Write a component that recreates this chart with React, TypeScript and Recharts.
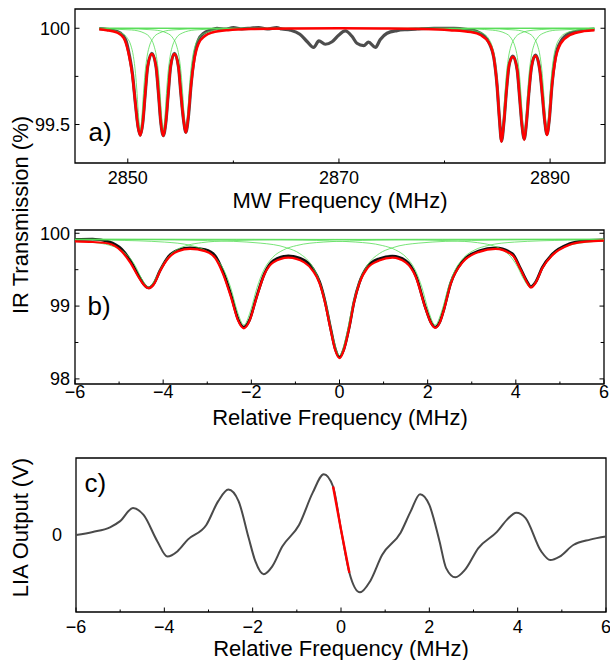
import React from 'react';
import { LineChart, Line, XAxis, YAxis, ReferenceArea } from 'recharts';

const FONT = '"Liberation Sans", Arial, Helvetica, sans-serif';

// ---------------- Panel a: MW frequency (MHz) vs IR transmission (%) ----------------
const aXDomain = [2845, 2895.2];
const aYDomain = [99.3, 100.1];
const aXTicks = [2850, 2860, 2870, 2880, 2890];
const aXMajor = [2850, 2870, 2890];
const aYTicks = [99.5, 99.75, 100];
const aYMajor = [99.5, 100];

const aData = [
  [2847.3, 99.998], [2848.5, 99.99], [2849.3, 99.975], [2849.8, 99.94], [2850.15, 99.86], [2850.45, 99.76],
  [2850.72, 99.61], [2850.97, 99.49], [2851.18, 99.445], [2851.42, 99.51], [2851.65, 99.66], [2851.88, 99.8],
  [2852.28, 99.87], [2852.68, 99.8], [2852.91, 99.66], [2853.13, 99.51], [2853.36, 99.442], [2853.6, 99.51],
  [2853.83, 99.66], [2854.05, 99.8], [2854.42, 99.87], [2854.8, 99.8], [2855.03, 99.66], [2855.28, 99.525],
  [2855.5, 99.46], [2855.74, 99.54], [2856.0, 99.71], [2856.3, 99.85], [2856.7, 99.94], [2857.2, 99.975],
  [2857.8, 99.99], [2858.45, 100.0], [2859.2, 99.995], [2860.0, 100.003], [2860.8, 99.997], [2861.6, 100.0],
  [2862.4, 100.004], [2863.2, 99.996], [2864.1, 100.003], [2864.6, 99.996], [2865.4, 99.99], [2866.3, 99.969],
  [2867.0, 99.93], [2867.6, 99.9], [2868.1, 99.934], [2868.7, 99.917], [2869.35, 99.93], [2870.0, 99.965],
  [2870.6, 99.986], [2871.25, 99.957], [2871.7, 99.922], [2872.35, 99.91], [2872.8, 99.928], [2873.45, 99.9],
  [2873.9, 99.94], [2874.55, 99.974], [2875.5, 99.988], [2876.5, 99.993], [2877.4, 99.996], [2879.0, 100.0],
  [2880.9, 100.0], [2882.2, 99.993], [2883.0, 99.985], [2883.7, 99.962], [2884.3, 99.915], [2884.68, 99.845],
  [2884.98, 99.7], [2885.2, 99.53], [2885.4, 99.415], [2885.62, 99.51], [2885.87, 99.68], [2886.12, 99.81],
  [2886.48, 99.855], [2886.88, 99.785], [2887.13, 99.63], [2887.35, 99.49], [2887.55, 99.425], [2887.76, 99.51],
  [2887.98, 99.66], [2888.24, 99.8], [2888.62, 99.86], [2889.02, 99.785], [2889.28, 99.645], [2889.5, 99.515],
  [2889.7, 99.45], [2889.92, 99.525], [2890.17, 99.7], [2890.5, 99.85], [2891.0, 99.93], [2891.9, 99.975],
  [2893.2, 99.99], [2894.2, 99.995],
];

const aFit = [
  [2847.3, 99.995], [2848.0, 99.99], [2849.0, 99.977], [2849.6, 99.95], [2850.07, 99.87], [2850.4, 99.77],
  [2850.7, 99.62], [2850.96, 99.49], [2851.18, 99.443], [2851.42, 99.51], [2851.65, 99.66], [2851.88, 99.8],
  [2852.28, 99.866], [2852.68, 99.8], [2852.91, 99.66], [2853.13, 99.51], [2853.36, 99.44], [2853.6, 99.51],
  [2853.83, 99.66], [2854.05, 99.8], [2854.42, 99.866], [2854.8, 99.8], [2855.03, 99.66], [2855.28, 99.525],
  [2855.5, 99.457], [2855.73, 99.54], [2855.98, 99.7], [2856.3, 99.836], [2856.7, 99.92], [2857.3, 99.96],
  [2858.0, 99.978], [2859.5, 99.99], [2862, 99.996], [2866, 99.999], [2870, 100.0], [2874, 99.999],
  [2878, 99.996], [2880.5, 99.99], [2882.5, 99.98], [2883.4, 99.965], [2884.2, 99.925], [2884.66, 99.85],
  [2884.98, 99.7], [2885.2, 99.53], [2885.4, 99.41], [2885.62, 99.51], [2885.87, 99.68], [2886.12, 99.81],
  [2886.48, 99.852], [2886.88, 99.785], [2887.13, 99.63], [2887.35, 99.49], [2887.55, 99.42], [2887.76, 99.51],
  [2887.98, 99.66], [2888.24, 99.8], [2888.62, 99.857], [2889.02, 99.785], [2889.28, 99.645], [2889.5, 99.515],
  [2889.7, 99.445], [2889.92, 99.525], [2890.17, 99.7], [2890.5, 99.836], [2891.0, 99.92], [2891.9, 99.965],
  [2893.2, 99.985], [2894.2, 99.99],
];

const aComp1 = [
  [2847.3, 99.994], [2848.18, 99.991], [2849.38, 99.975], [2849.98, 99.947], [2850.28, 99.913], [2850.53, 99.854],
  [2850.73, 99.766], [2850.88, 99.661], [2851.03, 99.535], [2851.18, 99.47], [2851.33, 99.535], [2851.48, 99.661],
  [2851.63, 99.766], [2851.83, 99.854], [2852.08, 99.913], [2852.38, 99.947], [2852.98, 99.975], [2854.18, 99.991],
  [2857.18, 99.998], [2894.2, 100.0],
];
const aComp2 = [
  [2847.3, 99.997], [2850.36, 99.991], [2851.56, 99.975], [2852.16, 99.947], [2852.46, 99.913], [2852.71, 99.854],
  [2852.91, 99.766], [2853.06, 99.661], [2853.21, 99.535], [2853.36, 99.47], [2853.51, 99.535], [2853.66, 99.661],
  [2853.81, 99.766], [2854.01, 99.854], [2854.26, 99.913], [2854.56, 99.947], [2855.16, 99.975], [2856.36, 99.991],
  [2859.36, 99.998], [2894.2, 100.0],
];
const aComp3 = [
  [2847.3, 99.998], [2849.5, 99.998], [2852.5, 99.991], [2853.7, 99.975], [2854.3, 99.947], [2854.6, 99.913],
  [2854.85, 99.854], [2855.05, 99.766], [2855.2, 99.661], [2855.35, 99.535], [2855.5, 99.47], [2855.65, 99.535],
  [2855.8, 99.661], [2855.95, 99.766], [2856.15, 99.854], [2856.4, 99.913], [2856.7, 99.947], [2857.3, 99.975],
  [2858.5, 99.991], [2861.5, 99.998], [2894.2, 100.0],
];
const aComp4 = [
  [2847.3, 100.0], [2879.4, 99.998], [2882.4, 99.99], [2883.6, 99.974], [2884.2, 99.944], [2884.5, 99.908],
  [2884.75, 99.846], [2884.95, 99.753], [2885.1, 99.642], [2885.25, 99.509], [2885.4, 99.44], [2885.55, 99.509],
  [2885.7, 99.642], [2885.85, 99.753], [2886.05, 99.846], [2886.3, 99.908], [2886.6, 99.944], [2887.2, 99.974],
  [2888.4, 99.99], [2891.4, 99.998], [2894.2, 99.999],
];
const aComp5 = [
  [2847.3, 100.0], [2881.55, 99.998], [2884.55, 99.99], [2885.75, 99.974], [2886.35, 99.945], [2886.65, 99.909],
  [2886.9, 99.849], [2887.1, 99.757], [2887.25, 99.648], [2887.4, 99.518], [2887.55, 99.45], [2887.7, 99.518],
  [2887.85, 99.648], [2888.0, 99.757], [2888.2, 99.849], [2888.45, 99.909], [2888.75, 99.945], [2889.35, 99.974],
  [2890.55, 99.99], [2894.2, 99.997],
];
const aComp6 = [
  [2847.3, 100.0], [2883.7, 99.998], [2886.7, 99.991], [2887.9, 99.975], [2888.5, 99.947], [2888.8, 99.913],
  [2889.05, 99.854], [2889.25, 99.766], [2889.4, 99.661], [2889.55, 99.535], [2889.7, 99.47], [2889.85, 99.535],
  [2890.0, 99.661], [2890.15, 99.766], [2890.35, 99.854], [2890.6, 99.913], [2890.9, 99.947], [2891.5, 99.975],
  [2892.7, 99.991], [2894.2, 99.995],
];

// ---------------- Panel b: relative frequency (MHz) vs IR transmission (%) ----------------
const relDomain = [-6, 6];
const relTicks = [-6, -5, -4, -3, -2, -1, 0, 1, 2, 3, 4, 5, 6];
const relMajor = [-6, -4, -2, 0, 2, 4, 6];
const bYDomain = [97.93, 100.045];
const bYTicks = [98, 98.5, 99, 99.5, 100];
const bYMajor = [98, 99, 100];

const bData = [
  [-6, 99.915], [-5.6, 99.92], [-5.24, 99.885], [-4.94, 99.78], [-4.75, 99.63], [-4.56, 99.42], [-4.45, 99.31],
  [-4.33, 99.25], [-4.21, 99.31], [-4.07, 99.49], [-3.88, 99.68], [-3.66, 99.77], [-3.39, 99.8], [-3.05, 99.775],
  [-2.82, 99.69], [-2.64, 99.47], [-2.45, 99.13], [-2.3, 98.82], [-2.17, 98.71], [-2.04, 98.81], [-1.89, 99.11],
  [-1.7, 99.45], [-1.5, 99.625], [-1.16, 99.69], [-0.8, 99.63], [-0.6, 99.51], [-0.45, 99.33], [-0.33, 99.07],
  [-0.21, 98.72], [-0.1, 98.42], [0, 98.3], [0.1, 98.41], [0.22, 98.71], [0.33, 99.06], [0.45, 99.32],
  [0.63, 99.54], [0.9, 99.65], [1.2, 99.685], [1.5, 99.625], [1.73, 99.42], [1.96, 98.96], [2.08, 98.77],
  [2.17, 98.71], [2.28, 98.79], [2.37, 98.96], [2.52, 99.31], [2.79, 99.615], [3.17, 99.76], [3.54, 99.8],
  [3.92, 99.72], [4.11, 99.51], [4.26, 99.33], [4.34, 99.265], [4.45, 99.33], [4.6, 99.53], [4.83, 99.715],
  [5.21, 99.855], [5.59, 99.9], [6.0, 99.91],
];

const bFit = [
  [-6, 99.89], [-5.6, 99.88], [-5.24, 99.86], [-4.94, 99.75], [-4.75, 99.6], [-4.56, 99.4], [-4.45, 99.3],
  [-4.33, 99.245], [-4.21, 99.3], [-4.07, 99.48], [-3.88, 99.66], [-3.66, 99.755], [-3.39, 99.785], [-3.05, 99.755],
  [-2.82, 99.66], [-2.64, 99.44], [-2.45, 99.1], [-2.3, 98.8], [-2.17, 98.695], [-2.04, 98.8], [-1.89, 99.1],
  [-1.7, 99.44], [-1.5, 99.6], [-1.16, 99.665], [-0.8, 99.6], [-0.6, 99.48], [-0.45, 99.31], [-0.33, 99.05],
  [-0.21, 98.7], [-0.1, 98.4], [0, 98.285], [0.1, 98.4], [0.22, 98.7], [0.33, 99.05], [0.45, 99.31],
  [0.63, 99.52], [0.9, 99.625], [1.2, 99.665], [1.5, 99.6], [1.73, 99.4], [1.96, 98.95], [2.08, 98.76],
  [2.17, 98.7], [2.28, 98.78], [2.37, 98.95], [2.52, 99.3], [2.79, 99.6], [3.17, 99.745], [3.54, 99.785],
  [3.92, 99.7], [4.11, 99.5], [4.26, 99.32], [4.34, 99.255], [4.45, 99.32], [4.6, 99.52], [4.83, 99.7],
  [5.21, 99.84], [5.59, 99.885], [6.0, 99.9],
];

const bComp1 = [
  [-6, 99.894], [-5.53, 99.871], [-5.23, 99.838], [-4.98, 99.778], [-4.78, 99.68], [-4.63, 99.549], [-4.48, 99.368],
  [-4.33, 99.26], [-4.18, 99.368], [-4.03, 99.549], [-3.88, 99.68], [-3.68, 99.778], [-3.43, 99.838], [-3.13, 99.871],
  [-2.53, 99.897], [-1.33, 99.912], [0.17, 99.916], [2, 99.918], [6, 99.919],
];
const bComp2 = [
  [-6, 99.911], [-5.17, 99.905], [-3.97, 99.879], [-3.37, 99.832], [-3.07, 99.772], [-2.82, 99.666], [-2.62, 99.492],
  [-2.47, 99.257], [-2.32, 98.932], [-2.17, 98.74], [-2.02, 98.932], [-1.87, 99.257], [-1.72, 99.492], [-1.52, 99.666],
  [-1.27, 99.772], [-0.97, 99.832], [-0.37, 99.879], [0.83, 99.905], [2.33, 99.913], [6, 99.918],
];
const bComp3 = [
  [-6, 99.915], [-4.5, 99.911], [-3, 99.9], [-1.8, 99.865], [-1.2, 99.801], [-0.9, 99.72], [-0.65, 99.576],
  [-0.45, 99.339], [-0.3, 99.021], [-0.15, 98.581], [0, 98.32], [0.15, 98.581], [0.3, 99.021], [0.45, 99.339],
  [0.65, 99.576], [0.9, 99.72], [1.2, 99.801], [1.8, 99.865], [3, 99.9], [4.5, 99.911], [6, 99.915],
];
const bComp4 = [
  [-6, 99.918], [-2.33, 99.913], [-0.83, 99.905], [0.37, 99.879], [0.97, 99.832], [1.27, 99.772], [1.52, 99.666],
  [1.72, 99.492], [1.87, 99.257], [2.02, 98.932], [2.17, 98.74], [2.32, 98.932], [2.47, 99.257], [2.62, 99.492],
  [2.82, 99.666], [3.07, 99.772], [3.37, 99.832], [3.97, 99.879], [5.17, 99.905], [6, 99.911],
];
const bComp5 = [
  [-6, 99.919], [-2, 99.918], [-0.17, 99.916], [1.33, 99.912], [2.53, 99.897], [3.13, 99.871], [3.43, 99.838],
  [3.68, 99.778], [3.88, 99.68], [4.03, 99.549], [4.18, 99.368], [4.33, 99.26], [4.48, 99.368], [4.63, 99.549],
  [4.78, 99.68], [4.98, 99.778], [5.23, 99.838], [5.53, 99.871], [6, 99.894],
];

// ---------------- Panel c: relative frequency (MHz) vs LIA output (arb.) ----------------
const cYDomain = [-1, 1];
const cYTicks = [0];
const cSignal = [
  [-6, 0.0], [-5.62, 0.04], [-5.23, 0.1], [-5.0, 0.18], [-4.71, 0.35], [-4.47, 0.26], [-4.16, -0.08],
  [-3.93, -0.28], [-3.7, -0.21], [-3.47, -0.06], [-3.05, 0.13], [-2.78, 0.44], [-2.55, 0.59], [-2.32, 0.44],
  [-2.09, -0.04], [-1.94, -0.34], [-1.75, -0.51], [-1.56, -0.41], [-1.33, -0.15], [-0.95, 0.13], [-0.64, 0.55],
  [-0.39, 0.79], [-0.18, 0.63], [0.0, 0.07], [0.19, -0.49], [0.43, -0.745], [0.66, -0.6], [0.93, -0.26],
  [1.35, 0.03], [1.58, 0.31], [1.79, 0.53], [2.0, 0.39], [2.23, -0.08], [2.38, -0.43], [2.59, -0.55],
  [2.81, -0.45], [3.11, -0.17], [3.53, 0.04], [3.76, 0.2], [3.97, 0.29], [4.18, 0.22], [4.53, -0.21],
  [4.74, -0.325], [4.95, -0.28], [5.26, -0.13], [5.64, -0.06], [6.0, -0.02],
];
const cSlope = [[-0.18, 0.63], [0.0, 0.07], [0.19, -0.49]];

// ---------------- helpers ----------------
const pts = (arr: number[][]) => arr.map(([x, y]) => ({ x, y }));
const isIn = (list: number[], v: number) => list.some((m) => Math.abs(m - v) < 1e-9);
const minus = (v: number) => (v < 0 ? '\u2212' + String(-v) : String(v));
const fmtA = (v: number) => String(v);

// bottom axis: inward tick marks + labels (y is the plot's bottom edge)
const bottomTick = (majors: number[], dy: number, fmt: (v: number) => string) => (props: any) => {
  const { x, y, payload } = props;
  const major = isIn(majors, payload.value);
  return (
    <g>
      <line x1={x} x2={x} y1={y} y2={y - (major ? 4.5 : 2.5)} stroke="#000" strokeWidth={1} />
      {major && (
        <text x={x} y={y + dy} textAnchor="middle" fontSize={18} fontFamily={FONT} fill="#000">
          {fmt(payload.value)}
        </text>
      )}
    </g>
  );
};

// left axis: inward tick marks on both frame sides + labels (x is the plot's left edge)
const leftTick = (majors: number[], gap: number, len: number, plotW: number, fmt: (v: number) => string) => (props: any) => {
  const { x, y, payload } = props;
  const major = isIn(majors, payload.value);
  const l = major ? len : len * 0.75;
  return (
    <g>
      {len > 0 && <line x1={x} x2={x + l} y1={y} y2={y} stroke="#000" strokeWidth={1} />}
      {len > 0 && <line x1={x + plotW} x2={x + plotW - l} y1={y} y2={y} stroke="#000" strokeWidth={1} />}
      {major && (
        <text x={x - gap} y={y + 6.4} textAnchor="end" fontSize={18} fontFamily={FONT} fill="#000">
          {fmt(payload.value)}
        </text>
      )}
    </g>
  );
};

const textLabel = (s: string, x: number, y: number, size: number, rotate = false, anchor = 'middle') => () => (
  <text
    x={x}
    y={y}
    fontSize={size}
    fontFamily={FONT}
    fill="#000"
    textAnchor={anchor}
    transform={rotate ? `rotate(-90 ${x} ${y})` : undefined}
  >
    {s}
  </text>
);

const GREEN = '#55dd55';

const Frame = (xd: number[], yd: number[], label: any) => (
  <ReferenceArea
    xAxisId="b"
    yAxisId="l"
    x1={xd[0]}
    x2={xd[1]}
    y1={yd[0]}
    y2={yd[1]}
    fill="none"
    fillOpacity={0}
    stroke="#000"
    strokeWidth={1.3}
    strokeOpacity={1}
    ifOverflow="visible"
    label={label}
  />
);

export default function App() {
  return (
    <div style={{ position: 'absolute', left: 0, top: 0, width: 610, height: 660, background: '#fff' }}>
      {/* Panel a */}
      <div style={{ position: 'absolute', left: 0, top: 0 }}>
        <LineChart width={610} height={215} margin={{ top: 9, right: 5, bottom: 0, left: 0 }}>
          <XAxis
            xAxisId="b"
            dataKey="x"
            type="number"
            domain={aXDomain}
            ticks={aXTicks}
            interval={0}
            tickSize={0}
            tickMargin={0}
            height={52}
            axisLine={false}
            tickLine={false}
            tick={bottomTick(aXMajor, 21, fmtA)}
            label={textLabel('MW Frequency (MHz)', 340, 208, 22)}
          />
          <YAxis
            yAxisId="l"
            type="number"
            domain={aYDomain}
            ticks={aYTicks}
            interval={0}
            width={75}
            tickSize={0}
            tickMargin={0}
            axisLine={false}
            tickLine={false}
            tick={leftTick(aYMajor, 5, 4.5, 530, fmtA)}
          />
          <Line xAxisId="b" yAxisId="l" data={pts(aData)} dataKey="y" type="monotone" stroke="#4d4d4d" strokeWidth={3.2} dot={false} isAnimationActive={false} />
          {[aComp1, aComp2, aComp3, aComp4, aComp5, aComp6].map((c, i) => (
            <Line key={'ac' + i} xAxisId="b" yAxisId="l" data={pts(c)} dataKey="y" type="monotone" stroke={GREEN} strokeWidth={0.8} dot={false} isAnimationActive={false} />
          ))}
          <Line xAxisId="b" yAxisId="l" data={pts(aFit)} dataKey="y" type="monotone" stroke="#ff0000" strokeWidth={2.5} dot={false} isAnimationActive={false} />
          {Frame(aXDomain, aYDomain, textLabel('a)', 88.5, 141, 26, false, 'start'))}
        </LineChart>
      </div>

      {/* Panel b */}
      <div style={{ position: 'absolute', left: 0, top: 0 }}>
        <LineChart width={610} height={430} margin={{ top: 230, right: 6, bottom: 0, left: 0 }}>
          <XAxis
            xAxisId="b"
            dataKey="x"
            type="number"
            domain={relDomain}
            ticks={relTicks}
            interval={0}
            tickSize={0}
            tickMargin={0}
            height={46}
            axisLine={false}
            tickLine={false}
            tick={bottomTick(relMajor, 14, minus)}
            label={textLabel('Relative Frequency (MHz)', 340, 425, 22)}
          />
          <YAxis
            yAxisId="l"
            type="number"
            domain={bYDomain}
            ticks={bYTicks}
            interval={0}
            width={75}
            tickSize={0}
            tickMargin={0}
            axisLine={false}
            tickLine={false}
            tick={leftTick(bYMajor, 5, 4.5, 529, fmtA)}
            label={textLabel('IR Transmission (%)', 27.5, 215, 22, true)}
          />
          <Line xAxisId="b" yAxisId="l" data={pts(bData)} dataKey="y" type="monotone" stroke="#111111" strokeWidth={2.8} dot={false} isAnimationActive={false} />
          {[bComp1, bComp2, bComp3, bComp4, bComp5].map((c, i) => (
            <Line key={'bc' + i} xAxisId="b" yAxisId="l" data={pts(c)} dataKey="y" type="monotone" stroke={GREEN} strokeWidth={0.8} dot={false} isAnimationActive={false} />
          ))}
          <Line xAxisId="b" yAxisId="l" data={pts(bFit)} dataKey="y" type="monotone" stroke="#ff0000" strokeWidth={2.2} dot={false} isAnimationActive={false} />
          {Frame(relDomain, bYDomain, textLabel('b)', 87.5, 315, 26, false, 'start'))}
        </LineChart>
      </div>

      {/* Panel c */}
      <div style={{ position: 'absolute', left: 0, top: 420 }}>
        <LineChart width={610} height={240} margin={{ top: 38, right: 4, bottom: 0, left: 0 }}>
          <XAxis
            xAxisId="b"
            dataKey="x"
            type="number"
            domain={relDomain}
            ticks={relTicks}
            interval={0}
            tickSize={0}
            tickMargin={0}
            height={48}
            axisLine={false}
            tickLine={false}
            tick={bottomTick(relMajor, 20.5, minus)}
            label={textLabel('Relative Frequency (MHz)', 341, 235.5, 22)}
          />
          <YAxis
            yAxisId="l"
            type="number"
            domain={cYDomain}
            ticks={cYTicks}
            interval={0}
            width={76}
            tickSize={0}
            tickMargin={0}
            axisLine={false}
            tickLine={false}
            tick={leftTick(cYTicks, 14, 0, 530, fmtA)}
            label={textLabel('LIA Output (V)', 27.5, 107.5, 22, true)}
          />
          <Line xAxisId="b" yAxisId="l" data={pts(cSignal)} dataKey="y" type="monotone" stroke="#4a4a4a" strokeWidth={2} dot={false} isAnimationActive={false} />
          <Line xAxisId="b" yAxisId="l" data={pts(cSlope)} dataKey="y" type="linear" stroke="#ff0000" strokeWidth={2.4} dot={false} isAnimationActive={false} />
          {Frame(relDomain, cYDomain, textLabel('c)', 84.5, 72, 26, false, 'start'))}
        </LineChart>
      </div>
    </div>
  );
}
